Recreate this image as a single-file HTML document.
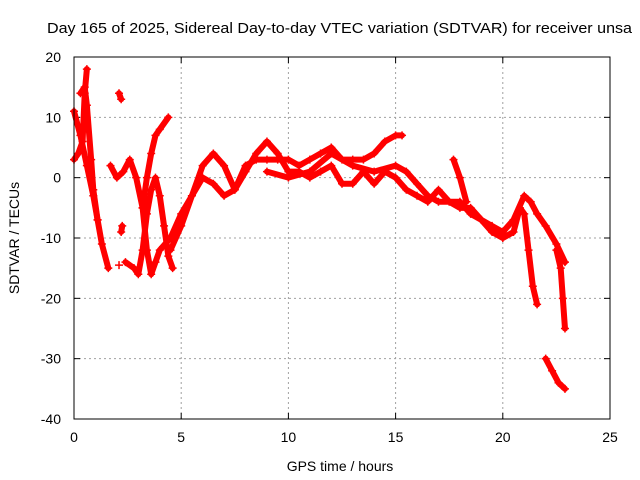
<!DOCTYPE html>
<html><head><meta charset="utf-8">
<style>
body{margin:0;background:#fff;overflow:hidden}
svg{display:block;font-family:"Liberation Sans",sans-serif}
</style></head>
<body>
<svg id="chart" width="640" height="480">
<text x="47" y="33" text-anchor="start" font-size="15" textLength="585" lengthAdjust="spacingAndGlyphs">Day 165 of 2025, Sidereal Day-to-day VTEC variation (SDTVAR) for receiver unsa</text>
<g id="grid"></g>
<g id="axes"></g>
<g id="marks"></g>
<rect x="74" y="57" width="536" height="362" fill="none" stroke="#000" stroke-width="1"/>
<text x="340" y="471" text-anchor="middle" font-size="14">GPS time / hours</text>
<text transform="translate(19,238) rotate(-90)" text-anchor="middle" font-size="14">SDTVAR / TECUs</text>
</svg>
<script>
const xTicks=[0,5,10,15,20,25];
const yTicks=[20,10,0,-10,-20,-30,-40];
const track1=[[0,11],[0.3,7],[0.6,2],[0.9,-3],[1.1,-7],[1.3,-11],[1.6,-15]];
const track2=[[0,3],[0.2,4],[0.4,6],[0.5,14],[0.6,18]];
const track3=[[0.3,14],[0.5,15],[0.6,12],[0.8,3],[0.9,-2],[1.1,-7]];
const track4=[[1.7,2],[2.0,0],[2.3,1],[2.6,3],[2.9,0],[3.2,-5],[3.4,-12],[3.6,-16],[3.8,-14],[4.0,-12],[4.5,-10],[5,-6],[5.5,-3],[6,2],[6.5,4],[7,2],[7.5,-2],[8,2],[8.5,3],[9,3],[9.5,3],[10,3],[10.5,2],[11,3],[11.5,4],[12,5],[12.5,3],[13,3],[13.5,3],[14,4],[14.5,6],[15,7],[15.3,7]];
const track5=[[2.4,-14],[2.8,-15],[3.0,-16],[3.2,-12],[3.4,-6],[3.6,-2],[3.8,0],[4.0,-3],[4.2,-8],[4.4,-13],[4.6,-15]];
const track6=[[3.2,-5],[3.4,0],[3.6,4],[3.8,7],[4.0,8],[4.4,10]];
const track7=[[4.5,-12],[5,-8],[5.5,-3],[6,0],[6.5,-1],[7,-3],[7.5,-2],[8,1],[8.5,4],[9,6],[9.5,4],[10,1],[10.5,1],[11,0],[11.5,1],[12,2],[12.5,-1],[13,-1],[13.5,1],[14,-1],[14.5,1],[15,0],[15.5,-2],[16,-3],[16.5,-4],[17,-2],[17.5,-4],[18,-5],[18.5,-5],[19,-7],[19.5,-8],[20,-9],[20.5,-7],[21,-3],[21.3,-4],[21.6,-6],[22,-8],[22.5,-11],[22.9,-14]];
const track8=[[9,1],[10,0],[11,1],[12,4],[13,2],[14,1],[15,2],[15.5,1],[16,-1],[16.5,-3],[17,-4],[18,-4],[18.5,-6],[19,-7],[19.5,-9],[20,-10],[20.5,-9],[20.8,-5],[21,-6],[21.2,-12],[21.4,-18],[21.6,-21]];
const track9=[[22.5,-12],[22.7,-15],[22.8,-20],[22.9,-25]];
const track10=[[22,-30],[22.3,-32],[22.6,-34],[22.9,-35]];
const track11=[[17.7,3],[18,0],[18.3,-4]];
const track12=[[2.1,14],[2.2,13]];
const track13=[[2.2,-9],[2.25,-8]];
const track14=[[2.1,-14.5]];
const tracks=[track1,track2,track3,track4,track5,track6,track7,track8,track9,track10,track11,track12,track13,track14];

const X0=74,X1=610,Y0=419,Y1=57;
const sx=v=>X0+(v-0)/(25-0)*(X1-X0);
const sy=v=>Y0-(v+40)/(60)*(Y0-Y1);
const NS="http://www.w3.org/2000/svg";
const grid=document.getElementById('grid'),axes=document.getElementById('axes'),marks=document.getElementById('marks');
function mk(tag,attrs,parent){const e=document.createElementNS(NS,tag);for(const k in attrs)e.setAttribute(k,attrs[k]);parent.appendChild(e);return e;}
xTicks.forEach(t=>{
  const x=sx(t);
  if(t>0&&t<25){const g=mk('line',{x1:x,x2:x,y1:Y0,y2:Y1,stroke:'#a0a0a0','stroke-dasharray':'2,3'},grid);
  
  }
  mk('line',{x1:x,x2:x,y1:Y0,y2:Y0-6,stroke:'#000'},axes);
  mk('line',{x1:x,x2:x,y1:Y1,y2:Y1+6,stroke:'#000'},axes);
  const l=mk('text',{x:x,y:Y0+23,'text-anchor':'middle','font-size':'14'},axes);l.textContent=t;
  
  
});
yTicks.forEach(t=>{
  const y=sy(t);
  if(t>-40&&t<20){const g=mk('line',{x1:X0,x2:X1,y1:y,y2:y,stroke:'#a0a0a0','stroke-dasharray':'2,3'},grid);
  
  }
  mk('line',{x1:X0,x2:X0+6,y1:y,y2:y,stroke:'#000'},axes);
  mk('line',{x1:X1,x2:X1-6,y1:y,y2:y,stroke:'#000'},axes);
  const l=mk('text',{x:X0-13,y:y+5,'text-anchor':'end','font-size':'14'},axes);l.textContent=t;
  
  
});
tracks.forEach((tr,i)=>{
  if(tr.length>1){
    const p=mk('polyline',{points:tr.map(d=>sx(d[0])+','+sy(d[1])).join(' '),fill:'none',stroke:'#f00','stroke-width':'6','stroke-linejoin':'round','stroke-linecap':'round'},marks);
    
    
  }
  tr.forEach(d=>{
    const x=sx(d[0]),y=sy(d[1]);
    const m=mk('path',{d:`M${x-4},${y}h8M${x},${y-4}v8`,stroke:'#f00','stroke-width':'1.5'},marks);
    
    
  });
});
</script>
</body></html>
